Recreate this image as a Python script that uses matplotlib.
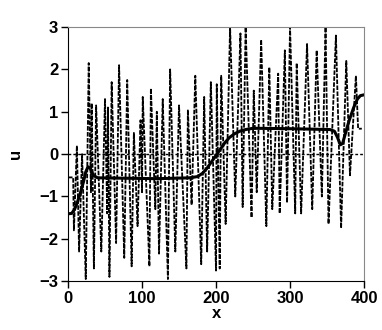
import matplotlib
matplotlib.use("Agg")
import matplotlib.pyplot as plt
import numpy as np

# oscillating (dashed) solution: turning points
x_osc = [0, 7, 8, 12, 15, 19, 24, 28, 31, 32, 35, 38, 45, 50, 53, 54, 56, 59,
         65, 69, 76, 80, 86, 89, 94, 98, 100, 101, 110, 112, 118, 120, 123, 128,
         135, 138, 145, 150, 160, 162, 167, 172, 180, 184, 188, 193, 200, 201,
         205, 207, 213, 219, 226, 233, 236, 240, 248, 251, 255, 261, 268, 272,
         276, 284, 286, 293, 296, 300, 307, 309, 315, 323, 330, 336, 343, 348,
         352, 362, 369, 376, 381, 389, 392, 397]
u_osc = [-0.55, -0.55, -1.8, 0.2, -2.3, 0.0, -2.95, 2.15, -0.9, 1.2, -2.7, 1.15,
         -2.3, 1.3, -1.4, 1.1, -2.9, 1.7, -2.1, 2.1, -2.45, 1.75, -2.65, 0.5,
         -1.7, 0.8, -0.9, 1.35, -2.65, 1.55, -1.3, 1.0, -2.35, 1.3, -2.95, 2.0,
         -2.3, 1.15, -2.7, 1.05, -1.2, 1.85, -2.6, 1.35, -2.3, 1.7, -2.75, 1.65,
         -2.7, 1.85, -1.65, 3.0, -1.0, 2.85, -1.25, 3.0, -1.5, 1.5, -0.9, 2.7,
         -1.7, 2.05, -1.3, 1.9, -1.4, 2.45, -1.15, 3.0, -1.4, 2.15, -1.4, 2.6,
         -1.3, 2.45, -1.0, 3.0, -1.65, 2.8, -1.75, 2.2, -0.5, 1.85, 0.6, 0.6]

# smooth (thick) solution
x_smooth = [0, 5, 9, 13, 17, 21, 24, 27, 30, 34, 40, 80, 120, 165, 175, 182,
            188, 194, 200, 206, 212, 218, 225, 232, 240, 250, 300, 354, 360,
            364, 368, 371, 375, 380, 386, 391, 395, 400]
u_smooth = [-1.41, -1.4, -1.3, -1.12, -0.9, -0.65, -0.42, -0.3, -0.33, -0.5,
            -0.56, -0.57, -0.58, -0.56, -0.53, -0.45, -0.33, -0.18, -0.03, 0.12,
            0.27, 0.39, 0.48, 0.54, 0.58, 0.61, 0.6, 0.58, 0.54, 0.4, 0.22, 0.25,
            0.5, 0.8, 1.1, 1.3, 1.38, 1.4]

xticks = [0, 100, 200, 300, 400]
yticks = [-3, -2, -1, 0, 1, 2, 3]

plt.rcParams['font.family'] = ['Liberation Sans', 'DejaVu Sans']
plt.rcParams['font.weight'] = 'bold'

fig = plt.figure(figsize=(3.82, 3.30), dpi=100)
ax = fig.add_axes([0.178, 0.148, 0.775, 0.770])

ax.axhline(0, color='black', lw=1.0, linestyle=(0, (2, 1.5)))
ax.plot(x_osc, u_osc, color='black', lw=1.3, linestyle=(0, (2.5, 0.8)))
ax.plot(x_smooth, u_smooth, color='black', lw=2.2, solid_joinstyle='round')

ax.set_xlim(0, 400)
ax.set_ylim(-3, 3)
ax.set_xticks(xticks)
ax.set_yticks(yticks)
ax.tick_params(direction='out', length=5, width=1, labelsize=12, pad=2)
for lab in ax.get_xticklabels() + ax.get_yticklabels():
    lab.set_fontweight('bold')
ax.spines['top'].set_color('#888888')
ax.spines['right'].set_color('#888888')
ax.set_xlabel('x', fontsize=12, fontweight='bold', labelpad=0)
ax.set_ylabel('u', fontsize=12, fontweight='bold', labelpad=12)

fig.savefig('out.png', dpi=100)
